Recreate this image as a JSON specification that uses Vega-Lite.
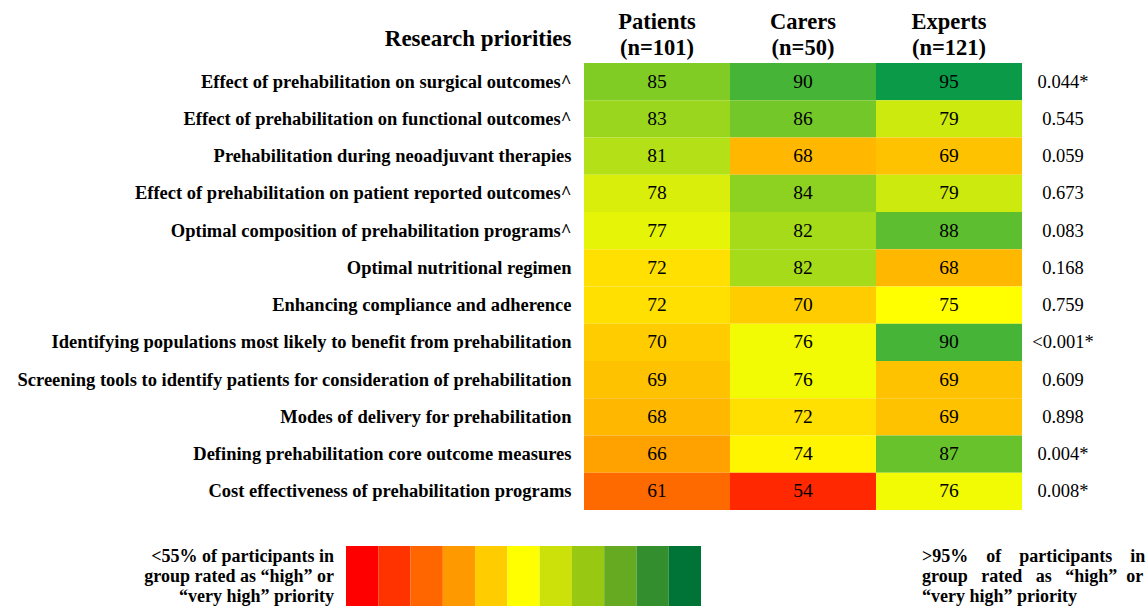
{
  "$schema": "https://vega.github.io/schema/vega-lite/v6.json",
  "width": 438,
  "height": 447,
  "padding": {"left": 584, "top": 63, "right": 124, "bottom": 96},
  "autosize": {"type": "none"},
  "background": "white",
  "config": {"view": {"stroke": null}, "font": "Liberation Serif"},
  "datasets": {
    "cells": [
      {"priority": "Effect of prehabilitation on surgical outcomes^", "group": "Patients", "pct": 85},
      {"priority": "Effect of prehabilitation on surgical outcomes^", "group": "Carers", "pct": 90},
      {"priority": "Effect of prehabilitation on surgical outcomes^", "group": "Experts", "pct": 95},
      {"priority": "Effect of prehabilitation on functional outcomes^", "group": "Patients", "pct": 83},
      {"priority": "Effect of prehabilitation on functional outcomes^", "group": "Carers", "pct": 86},
      {"priority": "Effect of prehabilitation on functional outcomes^", "group": "Experts", "pct": 79},
      {"priority": "Prehabilitation during neoadjuvant therapies", "group": "Patients", "pct": 81},
      {"priority": "Prehabilitation during neoadjuvant therapies", "group": "Carers", "pct": 68},
      {"priority": "Prehabilitation during neoadjuvant therapies", "group": "Experts", "pct": 69},
      {"priority": "Effect of prehabilitation on patient reported outcomes^", "group": "Patients", "pct": 78},
      {"priority": "Effect of prehabilitation on patient reported outcomes^", "group": "Carers", "pct": 84},
      {"priority": "Effect of prehabilitation on patient reported outcomes^", "group": "Experts", "pct": 79},
      {"priority": "Optimal composition of prehabilitation programs^", "group": "Patients", "pct": 77},
      {"priority": "Optimal composition of prehabilitation programs^", "group": "Carers", "pct": 82},
      {"priority": "Optimal composition of prehabilitation programs^", "group": "Experts", "pct": 88},
      {"priority": "Optimal nutritional regimen", "group": "Patients", "pct": 72},
      {"priority": "Optimal nutritional regimen", "group": "Carers", "pct": 82},
      {"priority": "Optimal nutritional regimen", "group": "Experts", "pct": 68},
      {"priority": "Enhancing compliance and adherence", "group": "Patients", "pct": 72},
      {"priority": "Enhancing compliance and adherence", "group": "Carers", "pct": 70},
      {"priority": "Enhancing compliance and adherence", "group": "Experts", "pct": 75},
      {"priority": "Identifying populations most likely to benefit from prehabilitation", "group": "Patients", "pct": 70},
      {"priority": "Identifying populations most likely to benefit from prehabilitation", "group": "Carers", "pct": 76},
      {"priority": "Identifying populations most likely to benefit from prehabilitation", "group": "Experts", "pct": 90},
      {"priority": "Screening tools to identify patients for consideration of prehabilitation", "group": "Patients", "pct": 69},
      {"priority": "Screening tools to identify patients for consideration of prehabilitation", "group": "Carers", "pct": 76},
      {"priority": "Screening tools to identify patients for consideration of prehabilitation", "group": "Experts", "pct": 69},
      {"priority": "Modes of delivery for prehabilitation", "group": "Patients", "pct": 68},
      {"priority": "Modes of delivery for prehabilitation", "group": "Carers", "pct": 72},
      {"priority": "Modes of delivery for prehabilitation", "group": "Experts", "pct": 69},
      {"priority": "Defining prehabilitation core outcome measures", "group": "Patients", "pct": 66},
      {"priority": "Defining prehabilitation core outcome measures", "group": "Carers", "pct": 74},
      {"priority": "Defining prehabilitation core outcome measures", "group": "Experts", "pct": 87},
      {"priority": "Cost effectiveness of prehabilitation programs", "group": "Patients", "pct": 61},
      {"priority": "Cost effectiveness of prehabilitation programs", "group": "Carers", "pct": 54},
      {"priority": "Cost effectiveness of prehabilitation programs", "group": "Experts", "pct": 76}
    ],
    "pvals": [
      {"priority": "Effect of prehabilitation on surgical outcomes^", "p": "0.044*"},
      {"priority": "Effect of prehabilitation on functional outcomes^", "p": "0.545"},
      {"priority": "Prehabilitation during neoadjuvant therapies", "p": "0.059"},
      {"priority": "Effect of prehabilitation on patient reported outcomes^", "p": "0.673"},
      {"priority": "Optimal composition of prehabilitation programs^", "p": "0.083"},
      {"priority": "Optimal nutritional regimen", "p": "0.168"},
      {"priority": "Enhancing compliance and adherence", "p": "0.759"},
      {"priority": "Identifying populations most likely to benefit from prehabilitation", "p": "<0.001*"},
      {"priority": "Screening tools to identify patients for consideration of prehabilitation", "p": "0.609"},
      {"priority": "Modes of delivery for prehabilitation", "p": "0.898"},
      {"priority": "Defining prehabilitation core outcome measures", "p": "0.004*"},
      {"priority": "Cost effectiveness of prehabilitation programs", "p": "0.008*"}
    ],
    "steps": [
      {"step": 1}, {"step": 2}, {"step": 3}, {"step": 4}, {"step": 5}, {"step": 6},
      {"step": 7}, {"step": 8}, {"step": 9}, {"step": 10}, {"step": 11}
    ]
  },
  "layer": [
    {
      "encoding": {
        "x": {
          "field": "group", "type": "nominal", "sort": null,
          "scale": {"paddingInner": 0, "paddingOuter": 0},
          "axis": {
            "orient": "top", "title": null, "labelAngle": 0, "domain": false, "ticks": false,
            "labelFont": "Liberation Serif", "labelFontWeight": "bold", "labelFontSize": 22.5,
            "labelColor": "black", "labelPadding": 30, "labelLineHeight": 26,
            "labelExpr": "[datum.label, datum.label == 'Patients' ? '(n=101)' : datum.label == 'Carers' ? '(n=50)' : '(n=121)']"
          }
        },
        "y": {
          "field": "priority", "type": "nominal", "sort": null,
          "scale": {"paddingInner": 0, "paddingOuter": 0},
          "axis": {
            "title": "Research priorities", "titleAngle": 0, "titleAlign": "right", "titleBaseline": "middle",
            "titleX": -13, "titleY": -25, "titleFontSize": 23, "titleFontWeight": "bold",
            "titleFont": "Liberation Serif", "titleColor": "black",
            "labelFont": "Liberation Serif", "labelFontSize": 18.5, "labelFontWeight": "bold",
            "labelColor": "black", "labelPadding": 13, "labelLimit": 0, "domain": false, "ticks": false
          }
        }
      },
      "layer": [
        {
          "data": {"name": "cells"},
          "mark": {"type": "rect", "strokeWidth": 0},
          "encoding": {
            "color": {
              "field": "pct", "type": "quantitative", "legend": null,
              "scale": {
                "type": "linear",
                "domain": [54, 61, 66, 70, 75, 79, 85, 90, 95],
                "range": ["#ff2800", "#ff6a00", "#ffa200", "#ffcc00", "#ffff00", "#ccea0e", "#80cc25", "#45b437", "#0a9a48"],
                "interpolate": "rgb"
              }
            }
          }
        },
        {
          "data": {"name": "cells"},
          "mark": {"type": "text", "font": "Liberation Serif", "fontSize": 19.5, "color": "black", "baseline": "middle"},
          "encoding": {"text": {"field": "pct", "type": "quantitative"}}
        },
        {
          "data": {"name": "pvals"},
          "mark": {"type": "text", "font": "Liberation Serif", "fontSize": 18.5, "color": "black", "baseline": "middle", "align": "center", "dx": 114},
          "encoding": {
            "x": {"datum": "Experts", "type": "nominal"},
            "text": {"field": "p", "type": "nominal"}
          }
        }
      ]
    },
    {
      "data": {"name": "steps"},
      "encoding": {
        "x": {"field": "step", "type": "ordinal", "scale": {"range": [-238, 117], "paddingInner": 0, "paddingOuter": 0}, "axis": null},
        "y": {"datum": "legend", "type": "nominal", "scale": {"range": [483, 543], "paddingInner": 0, "paddingOuter": 0}, "axis": null}
      },
      "layer": [
        {
          "mark": {"type": "rect", "strokeWidth": 0},
          "encoding": {
            "fill": {
              "field": "step", "type": "ordinal", "legend": null,
              "scale": {"range": ["#ff0000", "#ff3300", "#ff6600", "#ff9900", "#ffcc00", "#ffff00", "#cce00a", "#99c813", "#66aa22", "#338f2e", "#007337"]}
            }
          }
        },
        {
          "transform": [{"filter": "datum.step == 1"}],
          "mark": {
            "type": "text", "font": "Liberation Serif", "fontWeight": "bold", "fontSize": 18, "color": "black",
            "align": "right", "baseline": "middle", "dx": -12, "dy": -19, "lineHeight": 20,
            "text": ["<55% of participants in", "group rated as \u201chigh\u201d or", "\u201cvery high\u201d priority"]
          },
          "encoding": {"x": {"field": "step", "type": "ordinal", "bandPosition": 0}}
        },
        {
          "transform": [{"filter": "datum.step == 11"}],
          "mark": {
            "type": "text", "font": "Liberation Serif", "fontWeight": "bold", "fontSize": 18, "color": "black",
            "align": "left", "baseline": "middle", "dx": 221, "dy": -19, "lineHeight": 20,
            "text": [">95%\u00a0\u00a0\u00a0 of\u00a0\u00a0\u00a0 participants\u00a0\u00a0\u00a0 in", "group\u00a0\u00a0 rated\u00a0\u00a0 as\u00a0\u00a0 \u201chigh\u201d\u00a0 or", "\u201cvery high\u201d priority"]
          },
          "encoding": {"x": {"field": "step", "type": "ordinal", "bandPosition": 1}}
        }
      ]
    }
  ],
  "resolve": {"scale": {"x": "independent", "y": "independent", "color": "independent"}}
}
